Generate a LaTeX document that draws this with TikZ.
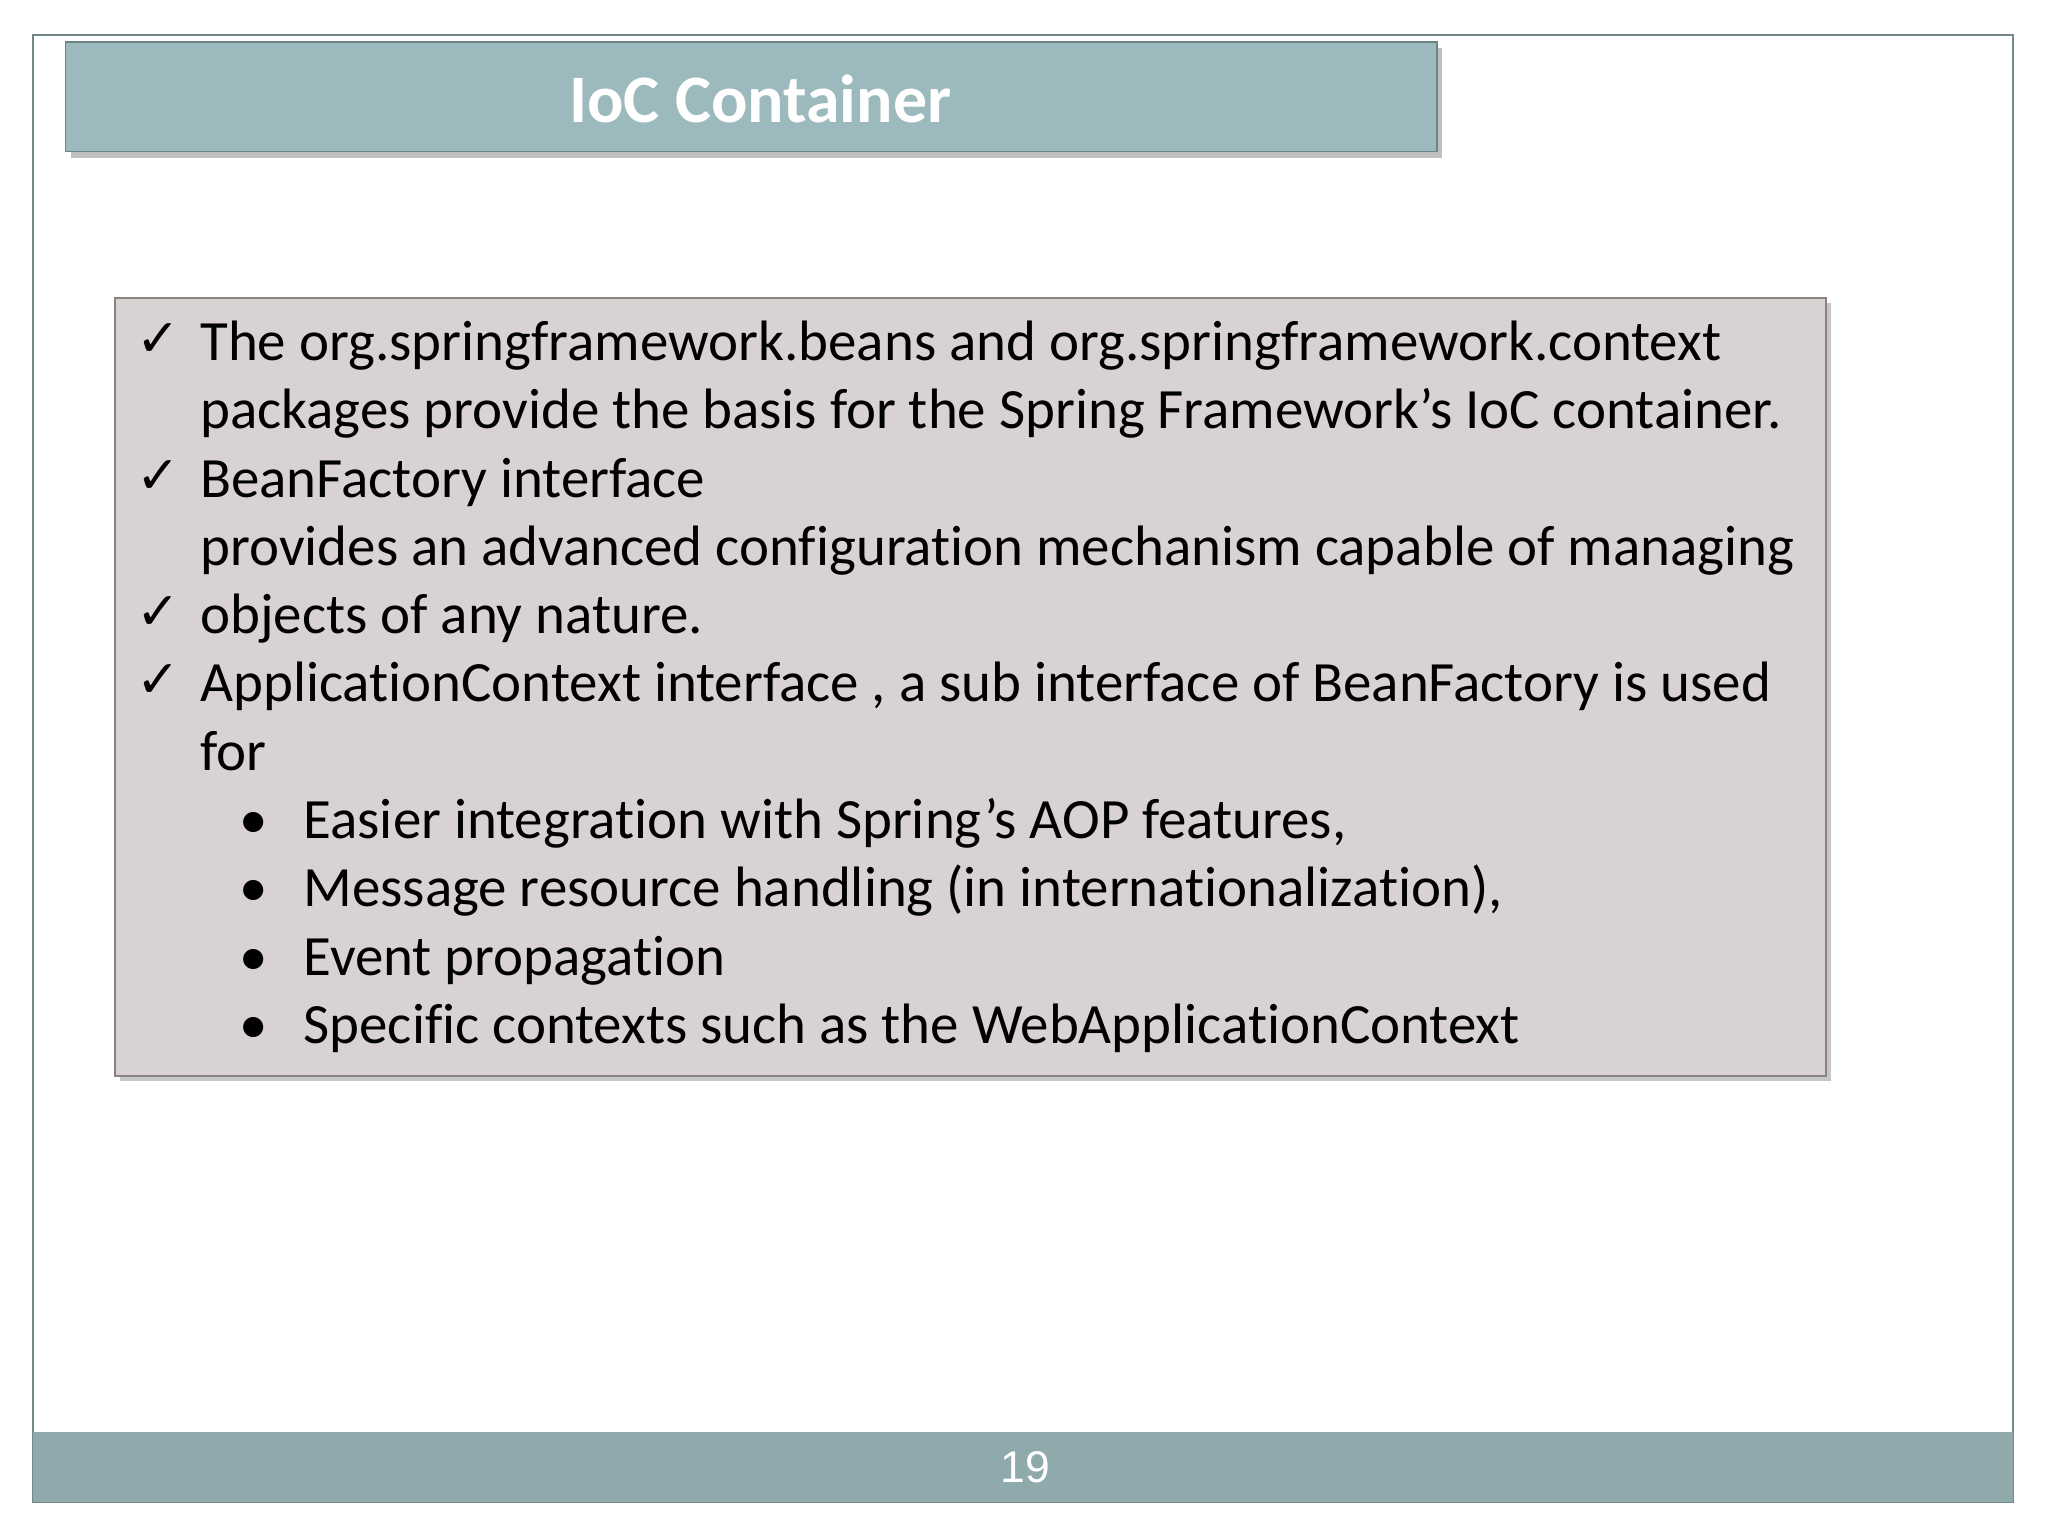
\documentclass[tikz,border=0pt]{standalone}
\usepackage{fontspec}
\setmainfont{Carlito}[Ligatures={NoCommon}]
\newfontfamily\symf{DejaVu Sans}
\newfontfamily\arialf{Liberation Sans}
\definecolor{frameg}{HTML}{8FA9AC}
\definecolor{titlef}{HTML}{9CBABE}
\definecolor{boxf}{HTML}{D8D2D2}
\definecolor{boxd}{HTML}{8C8181}
\newcommand{\apos}{\symbol{39}}
\begin{document}
\begin{tikzpicture}[x=0.5pt,y=-0.5pt,
  line/.style={anchor=base west,inner sep=0,font=\fontsize{21.8}{26}\selectfont},
  chk/.style={anchor=base west,inner sep=0,font=\symf\fontsize{20}{24}\selectfont}]
\useasboundingbox (0,0) rectangle (1568,1176);
\fill[white] (0,0) rectangle (1568,1176);
\draw[frameg!80!black,line width=0.8pt] (25,27) rectangle (1541,1150);
\fill[frameg] (25,1096) rectangle (1541,1150);
\node[text=white,font=\arialf\fontsize{17}{20}\selectfont] (pg) at (785,1123) {19};
\fill[black!25] (54,37) rectangle (1104,121);
\fill[titlef] (50,32) rectangle (1100,116);
\draw[titlef!70!black,line width=0.6pt] (50,32) rectangle (1100,116);
\node[text=white,font=\bfseries\fontsize{26}{30}\selectfont] (title) at (582,76) {IoC Container};
\fill[black!22] (92,232) rectangle (1402,828);
\fill[boxf] (88,228) rectangle (1398,824);
\draw[boxd,line width=0.8pt] (88,228) rectangle (1398,824);
\foreach \y/\t in {263/{The org.springframework.beans and org.springframework.context},
 315/{packages provide the basis for the Spring Framework\apos s IoC container.},
 368/{BeanFactory interface},
 420/{provides an advanced configuration mechanism capable of managing},
 472/{objects of any nature.},
 524/{ApplicationContext interface , a sub interface of BeanFactory is used},
 577/{for}}
  \node[line] at (153,\y+13) {\t};
\foreach \y in {263,368,472,524}
  \node[chk] at (104,\y+10) {✓};
\foreach \y/\t in {629/{Easier integration with Spring\apos s AOP features,},
 681/{Message resource handling (in internationalization),},
 734/{Event propagation},
 786/{Specific contexts such as the WebApplicationContext}}
 { \node[line] at (232,\y+13) {\t};
   \node[line] at (183,\y+13) {•}; }
\end{tikzpicture}
\end{document}
